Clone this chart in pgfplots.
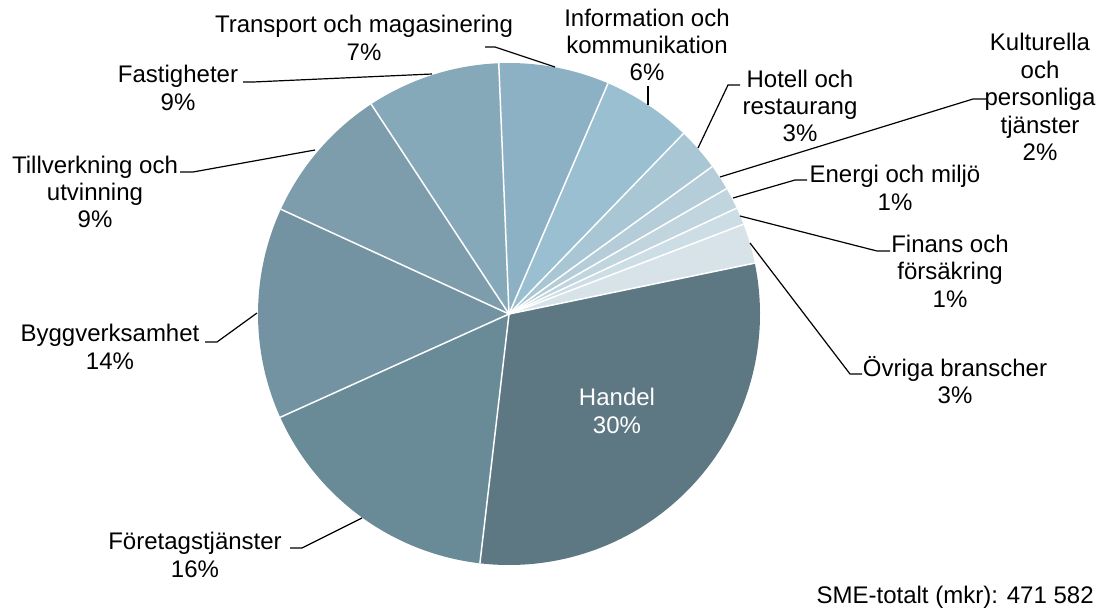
\documentclass[border=0pt]{standalone}
\usepackage{pgfplots}
\pgfplotsset{compat=1.18}
\usepackage{fontspec}
\setmainfont{Liberation Sans}
\definecolor{c1}{HTML}{5E7883}
\definecolor{c2}{HTML}{698A97}
\definecolor{c3}{HTML}{7393A2}
\definecolor{c4}{HTML}{7D9DAC}
\definecolor{c5}{HTML}{86A9BA}
\definecolor{c6}{HTML}{8DB1C4}
\definecolor{c7}{HTML}{9ABFD0}
\definecolor{c8}{HTML}{A8C6D3}
\definecolor{c9}{HTML}{B5CDD8}
\definecolor{c10}{HTML}{C1D5DF}
\definecolor{c11}{HTML}{CCDDE5}
\definecolor{c12}{HTML}{D7E3E9}
\tikzset{lbl/.style={font=\fontsize{12}{13.7}\selectfont, align=center, inner sep=0pt}}
\begin{document}
\begin{tikzpicture}
\begin{axis}[
  scale only axis, width=553pt, height=305.5pt,
  xmin=0, xmax=1106, ymin=0, ymax=611, y dir=reverse,
  hide axis, clip=false,
]
\path (axis cs:0,0) (axis cs:1106,611);
\pgfplotsextra{
  % shares in percent, clockwise from Handel
  \gdef\ang{11.7}
  \foreach \v/\c in {30.10/c1, 16.40/c2, 13.60/c3, 8.90/c4, 8.60/c5, 7.10/c6, 5.78/c7, 2.78/c8, 1.67/c9, 1.39/c10, 1.11/c11, 2.58/c12}{
    \pgfmathsetmacro\e{\ang-3.6*\v}
    \fill[\c] (axis cs:509,314) -- ++(\ang:125.5pt) arc[start angle=\ang, end angle=\e, radius=125.5pt] -- cycle;
    \xdef\ang{\e}
  }
  \gdef\ang{11.7}
  \foreach \v in {30.10, 16.40, 13.60, 8.90, 8.60, 7.10, 5.78, 2.78, 1.67, 1.39, 1.11, 2.58}{
    \draw[white, line width=0.75pt] (axis cs:509,314) -- ++(\ang:125.5pt);
    \pgfmathsetmacro\e{\ang-3.6*\v}
    \xdef\ang{\e}
  }
}
% leader lines
\draw[black, line width=0.6pt] (axis cs:485,47) -- (axis cs:495,47) -- (axis cs:555,67);
\draw[black, line width=0.6pt] (axis cs:243,82) -- (axis cs:253,82) -- (axis cs:432,74);
\draw[black, line width=0.6pt] (axis cs:648,86) -- (axis cs:648,105);
\draw[black, line width=0.6pt] (axis cs:740,85) -- (axis cs:728,85) -- (axis cs:698,148);
\draw[black, line width=0.6pt] (axis cs:987,99) -- (axis cs:973,99) -- (axis cs:720,177);
\draw[black, line width=0.6pt] (axis cs:807,180) -- (axis cs:795,180) -- (axis cs:733,198);
\draw[black, line width=0.6pt] (axis cs:890,251) -- (axis cs:877,251) -- (axis cs:740,216);
\draw[black, line width=0.6pt] (axis cs:862,374) -- (axis cs:850,374) -- (axis cs:750,243);
\draw[black, line width=0.6pt] (axis cs:205,342) -- (axis cs:217,342) -- (axis cs:257,313);
\draw[black, line width=0.6pt] (axis cs:180,172) -- (axis cs:193,172) -- (axis cs:315,150);
\draw[black, line width=0.6pt] (axis cs:290,548) -- (axis cs:302,548) -- (axis cs:362,518);
% labels
\node[lbl] at (axis cs:364,38) {Transport och magasinering\\7\%};
\node[lbl] at (axis cs:647,45) {Information och\\kommunikation\\6\%};
\node[lbl] at (axis cs:800,106) {Hotell och\\restaurang\\3\%};
\node[lbl] at (axis cs:1040,97) {Kulturella\\och\\personliga\\tjänster\\2\%};
\node[lbl] at (axis cs:895,188) {Energi och miljö\\1\%};
\node[lbl] at (axis cs:950,271) {Finans och\\försäkring\\1\%};
\node[lbl] at (axis cs:955,380) {Övriga branscher\\3\%};
\node[lbl, text=white] at (axis cs:617,411) {Handel\\30\%};
\node[lbl] at (axis cs:195,555) {Företagstjänster\\16\%};
\node[lbl] at (axis cs:110,347) {Byggverksamhet\\14\%};
\node[lbl] at (axis cs:95,192) {Tillverkning och\\utvinning\\9\%};
\node[lbl] at (axis cs:178,88) {Fastigheter\\9\%};
\node[lbl, anchor=east] at (axis cs:1094,597) {SME-totalt (mkr): 471 582};
\end{axis}
\end{tikzpicture}
\end{document}
